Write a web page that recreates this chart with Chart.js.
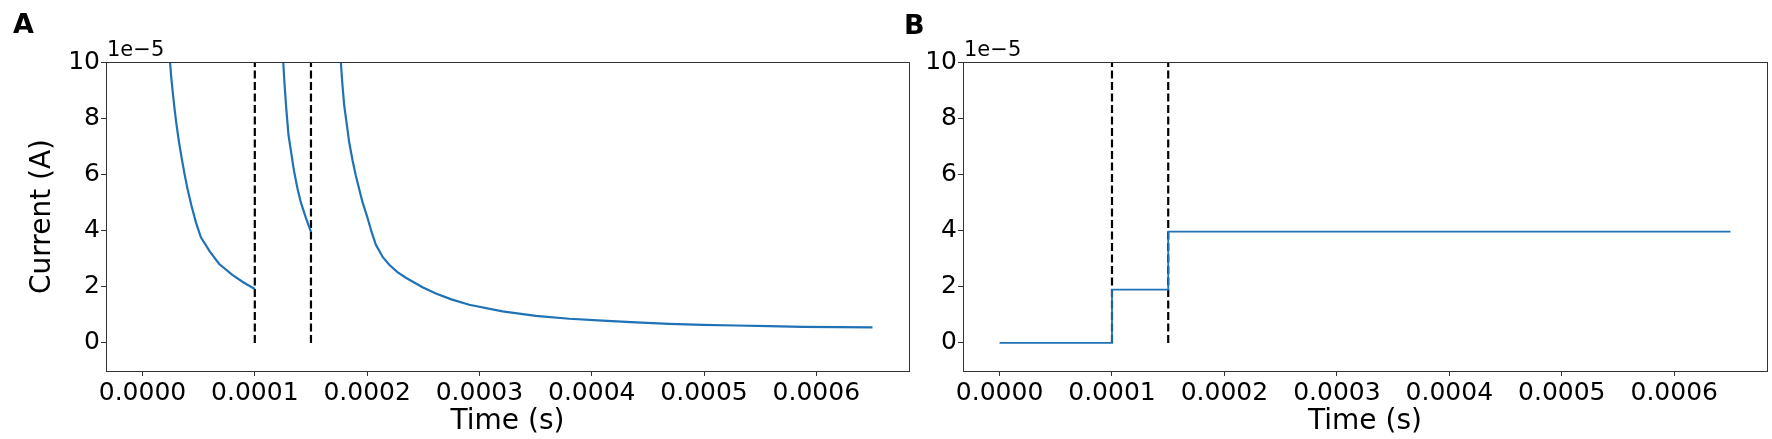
<!DOCTYPE html>
<html><head><meta charset="utf-8">
<script src="https://cdn.jsdelivr.net/npm/chart.js@4.4.0/dist/chart.umd.min.js"></script>
<style>
html,body{margin:0;padding:0;background:#fff;width:1772px;height:439px;overflow:hidden;font-family:"DejaVu Sans";}
.panel{position:absolute;top:0;height:439px;}
.lab{position:absolute;font:bold 27px "DejaVu Sans";line-height:27px;color:#000;}
</style></head><body>
<div class="panel" style="left:0;width:920px"><canvas id="cA" width="920" height="439"></canvas></div>
<div class="panel" style="left:920px;width:852px"><canvas id="cB" width="852" height="439"></canvas></div>
<div class="lab" id="labA" style="left:13px;top:10px"></div>
<div class="lab" id="labB" style="left:904px;top:11px"></div>
<script>
// ---- data ----
const panelLabels = ['A', 'B'];
const xTickValues = [0, 0.0001, 0.0002, 0.0003, 0.0004, 0.0005, 0.0006];
const yTickValues = [0, 2, 4, 6, 8, 10];
const xRange = [-0.0000325, 0.0006825];
const yRange = [-1, 10];
const yOffsetText = '1e\u22125';
const xTitle = 'Time (s)';
const yTitle = 'Current (A)';
const stimTimes = [0.0001, 0.00015];
const stimLineY = [0, 10];

// Panel A: current in units of 1e-5 A; null separates the three decays
const timeA = [
  0.0000245, 0.0000255, 0.000027, 0.0000285, 0.00003, 0.0000325, 0.000035, 0.0000375, 0.00004,
  0.0000435, 0.0000475, 0.000052, 0.00006, 0.0000683, 0.00008, 0.00009, 0.0001,
  0.000105,
  0.0001253, 0.0001265, 0.000128, 0.00013, 0.0001325, 0.000135, 0.000138, 0.000141, 0.0001455, 0.00015,
  0.000155,
  0.0001766, 0.000178, 0.0001796, 0.000182, 0.000184, 0.000187, 0.0001899, 0.0001959, 0.0002,
  0.000204, 0.0002077, 0.000214, 0.0002197, 0.000227, 0.0002345, 0.0002493, 0.0002612, 0.000275, 0.0002909,
  0.0003206, 0.0003502, 0.00038, 0.0004096, 0.0004393, 0.000469, 0.0004987, 0.0005283, 0.000558,
  0.0005877, 0.00062, 0.00065
];
const currentA = [
  10, 9.5, 8.9, 8.35, 7.85, 7.15, 6.55, 6.0, 5.5,
  4.9, 4.3, 3.76, 3.25, 2.81, 2.42, 2.15, 1.92,
  null,
  10, 9.2, 8.35, 7.4, 6.75, 6.1, 5.5, 5.0, 4.45, 3.95,
  null,
  10, 9.2, 8.46, 7.75, 7.15, 6.5, 5.96, 5.01, 4.5,
  3.95, 3.5, 3.05, 2.78, 2.52, 2.32, 1.98, 1.76, 1.55, 1.36,
  1.12, 0.96, 0.86, 0.79, 0.73, 0.68, 0.64, 0.62, 0.60,
  0.57, 0.56, 0.55
];

// Panel B: stepped current level (1e-5 A)
const timeB = [0, 0.0001, 0.00015, 0.00065];
const currentB = [0, 1.9, 3.96, 3.96];

// ---- styling ----
const FONT = 'DejaVu Sans';
const BLUE = '#1f72b6';
const AXIS = '#333';

document.getElementById('labA').textContent = panelLabels[0];
document.getElementById('labB').textContent = panelLabels[1];

const framePlugin = {
  id: 'frame',
  afterDatasetsDraw(chart) {
    const {ctx, chartArea: a} = chart;
    ctx.save();
    ctx.strokeStyle = AXIS;
    ctx.lineWidth = 1;
    ctx.strokeRect(Math.round(a.left) + 0.5, Math.round(a.top) + 0.5,
                   Math.round(a.right - a.left), Math.round(a.bottom - a.top));
    ctx.fillStyle = '#000';
    ctx.font = '21px "' + FONT + '"';
    ctx.textAlign = 'left';
    ctx.textBaseline = 'bottom';
    ctx.fillText(yOffsetText, a.left + 1, a.top - 1);
    ctx.restore();
  }
};

function vlineSets() {
  return stimTimes.map(t => ({
    data: stimLineY.map(y => ({x: t, y: y})),
    borderColor: '#000', borderWidth: 2.2, borderDash: [8, 3.5],
    pointRadius: 0, order: 1
  }));
}

function makeScales(yWidth, showYTitle) {
  return {
    x: {
      type: 'linear', min: xRange[0], max: xRange[1],
      afterBuildTicks: s => { s.ticks = xTickValues.map(v => ({value: v})); },
      afterFit: s => { s.height = 68; },
      ticks: { callback: v => Number(v).toFixed(4), font: {family: FONT, size: 25}, color: '#000',
               padding: 2, maxRotation: 0, autoSkip: false },
      grid: { display: true, drawOnChartArea: false, drawTicks: true, tickLength: 5, color: AXIS, lineWidth: 1 },
      border: { display: true, color: AXIS, width: 1 },
      title: { display: true, text: xTitle, font: {family: FONT, size: 28}, color: '#000', padding: {top: 0, bottom: 0} }
    },
    y: {
      type: 'linear', min: yRange[0], max: yRange[1],
      afterBuildTicks: s => { s.ticks = yTickValues.map(v => ({value: v})); },
      afterFit: s => { s.width = yWidth; },
      ticks: { callback: v => String(v), font: {family: FONT, size: 25}, color: '#000', padding: 1, autoSkip: false },
      grid: { display: true, drawOnChartArea: false, drawTicks: true, tickLength: 5, color: AXIS, lineWidth: 1 },
      border: { display: true, color: AXIS, width: 1 },
      title: { display: showYTitle, text: yTitle, font: {family: FONT, size: 28}, color: '#000', padding: {top: 26, bottom: 0} }
    }
  };
}

function baseOptions(yWidth, showYTitle, padRight) {
  return {
    responsive: false, animation: false, devicePixelRatio: 1,
    layout: { padding: {left: 0, top: 62, right: padRight, bottom: 0} },
    plugins: { legend: {display: false}, tooltip: {enabled: false}, title: {display: false} },
    scales: makeScales(yWidth, showYTitle),
    elements: { line: { tension: 0 } }
  };
}

new Chart(document.getElementById('cA'), {
  type: 'line',
  data: {
    datasets: [
      { data: timeA.map((t, i) => ({x: t, y: currentA[i]})), borderColor: BLUE, borderWidth: 2.2,
        pointRadius: 0, spanGaps: false, order: 0 },
      ...vlineSets()
    ]
  },
  options: baseOptions(106, true, 11),
  plugins: [framePlugin]
});

new Chart(document.getElementById('cB'), {
  type: 'line',
  data: {
    datasets: [
      { data: timeB.map((t, i) => ({x: t, y: currentB[i]})), borderColor: BLUE, borderWidth: 1.8,
        pointRadius: 0, stepped: 'before', order: 0 },
      ...vlineSets()
    ]
  },
  options: baseOptions(43, false, 5),
  plugins: [framePlugin]
});
</script>
</body></html>
